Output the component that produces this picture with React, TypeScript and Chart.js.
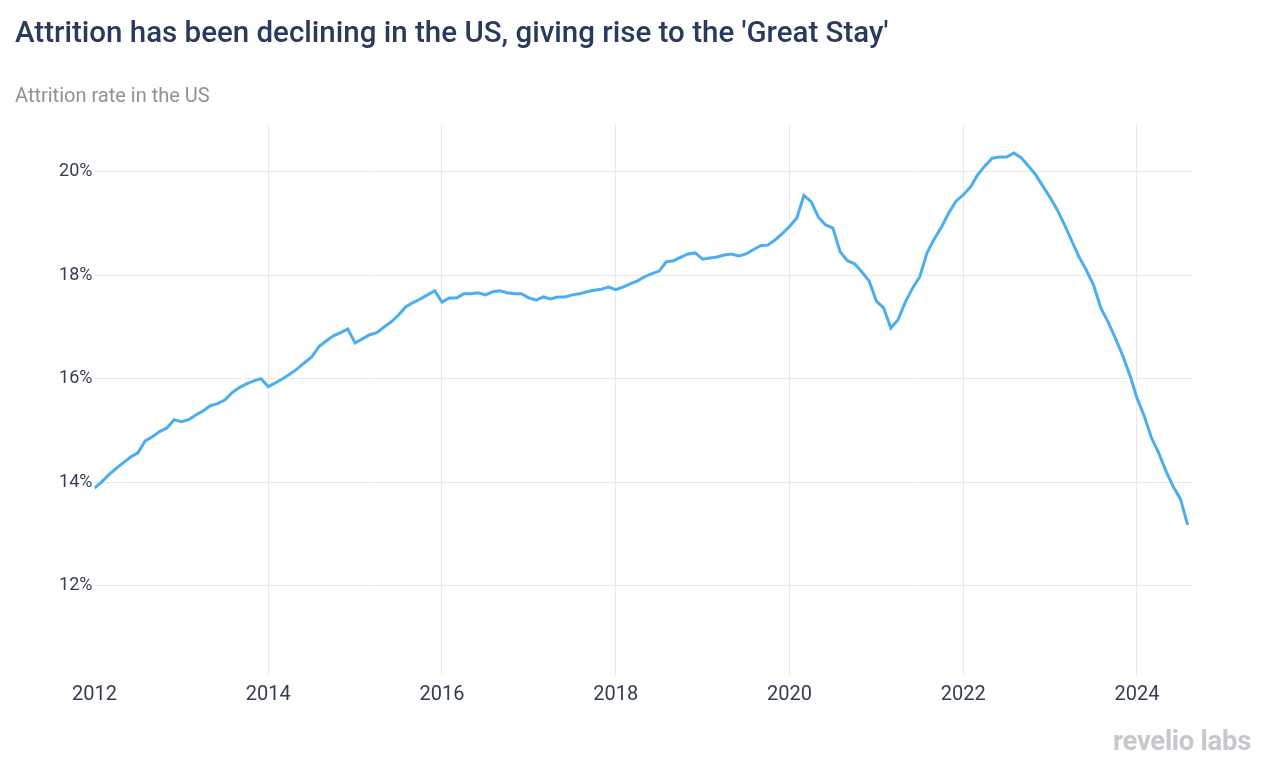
import { useEffect, useRef } from "react";
import { Chart, registerables } from "chart.js";

Chart.register(...registerables);

const years = [2012, 2013, 2014, 2015, 2016, 2017, 2018, 2019, 2020, 2021, 2022, 2023, 2024];

const rate2012 = [13.89, 14.01, 14.15, 14.27, 14.38, 14.49, 14.57, 14.8, 14.88, 14.98, 15.05, 15.21];
const rate2013 = [15.17, 15.21, 15.3, 15.38, 15.48, 15.52, 15.59, 15.73, 15.83, 15.9, 15.96, 16.0];
const rate2014 = [15.85, 15.92, 16.0, 16.09, 16.19, 16.31, 16.42, 16.62, 16.73, 16.83, 16.89, 16.96];
const rate2015 = [16.69, 16.77, 16.85, 16.89, 17.0, 17.1, 17.23, 17.39, 17.47, 17.54, 17.62, 17.7];
const rate2016 = [17.48, 17.56, 17.56, 17.64, 17.64, 17.66, 17.62, 17.68, 17.7, 17.66, 17.64, 17.64];
const rate2017 = [17.56, 17.52, 17.58, 17.54, 17.58, 17.58, 17.62, 17.64, 17.68, 17.71, 17.73, 17.77];
const rate2018 = [17.72, 17.77, 17.83, 17.89, 17.97, 18.03, 18.08, 18.26, 18.28, 18.35, 18.41, 18.43];
const rate2019 = [18.31, 18.33, 18.35, 18.39, 18.41, 18.37, 18.41, 18.49, 18.57, 18.58, 18.68, 18.8];
const rate2020 = [18.94, 19.1, 19.54, 19.42, 19.12, 18.97, 18.91, 18.45, 18.28, 18.22, 18.06, 17.89];
const rate2021 = [17.5, 17.37, 16.98, 17.14, 17.48, 17.75, 17.97, 18.43, 18.7, 18.93, 19.2, 19.43];
const rate2022 = [19.55, 19.7, 19.94, 20.11, 20.26, 20.28, 20.28, 20.36, 20.27, 20.11, 19.94, 19.72];
const rate2023 = [19.5, 19.26, 18.97, 18.66, 18.35, 18.1, 17.81, 17.37, 17.1, 16.79, 16.46, 16.08];
const rate2024 = [15.63, 15.28, 14.86, 14.57, 14.22, 13.92, 13.68, 13.18];

const ratesByYear = [
  rate2012, rate2013, rate2014, rate2015, rate2016, rate2017, rate2018,
  rate2019, rate2020, rate2021, rate2022, rate2023, rate2024,
];

const xTickValues = [2012, 2014, 2016, 2018, 2020, 2022, 2024];
const yTickValues = [12, 14, 16, 18, 20];

const TITLE = "Attrition has been declining in the US, giving rise to the 'Great Stay'";
const SUBTITLE = "Attrition rate in the US";
const LOGO = "revelio labs";

export default function App() {
  const ref = useRef<HTMLCanvasElement | null>(null);

  useEffect(() => {
    if (!ref.current) return;
    const points: { x: number; y: number }[] = [];
    years.forEach((yr, i) => {
      ratesByYear[i].forEach((v, m) => points.push({ x: yr + m / 12, y: v }));
    });
    const gridColor = "#e8e8ed";
    const tickColor = "#353d52";
    const chart = new Chart(ref.current, {
      type: "line",
      data: {
        datasets: [
          {
            data: points,
            borderColor: "#4aaef0",
            borderWidth: 3,
            pointRadius: 0,
            tension: 0,
            fill: false,
          },
        ],
      },
      options: {
        animation: false,
        responsive: true,
        maintainAspectRatio: false,
        layout: { padding: { top: 125, right: 77, bottom: 0, left: 0 } },
        plugins: { legend: { display: false }, tooltip: { enabled: false } },
        scales: {
          x: {
            type: "linear",
            min: 2012,
            max: 2024.645,
            afterBuildTicks: (s: any) => {
              s.ticks = xTickValues.map((v) => ({ value: v }));
            },
            afterFit: (s: any) => {
              s.height = 96;
            },
            grid: {
              color: (ctx: any) =>
                ctx.tick && ctx.tick.value === 2012 ? "rgba(0,0,0,0)" : gridColor,
              drawTicks: false,
              lineWidth: 1,
            },
            border: { display: false },
            ticks: {
              padding: 8,
              maxRotation: 0,
              autoSkip: false,
              color: tickColor,
              font: { family: "Roboto", size: 20 },
              callback: (v: any) => String(v),
            },
          },
          y: {
            min: 10.28,
            max: 20.9,
            afterBuildTicks: (s: any) => {
              s.ticks = yTickValues.map((v) => ({ value: v }));
            },
            afterFit: (s: any) => {
              s.width = 94.5;
            },
            grid: { color: gridColor, drawTicks: false, lineWidth: 1 },
            border: { display: false },
            ticks: {
              padding: 2,
              color: tickColor,
              font: { family: "Roboto", size: 18 },
              callback: (v: any) => v + "%",
            },
          },
        },
      },
    });
    return () => chart.destroy();
  }, []);

  return (
    <div
      style={{
        position: "absolute",
        left: 0,
        top: 0,
        width: 1270,
        height: 771,
        background: "#ffffff",
        overflow: "hidden",
      }}
    >
      <canvas ref={ref} />
      <div
        style={{
          position: "absolute",
          left: 15,
          top: 15,
          fontFamily: "Roboto",
          fontWeight: 500,
          fontSize: 29.5,
          color: "#2a3a5c",
          whiteSpace: "nowrap",
          lineHeight: "34px",
        }}
      >
        {TITLE}
      </div>
      <div
        style={{
          position: "absolute",
          left: 15,
          top: 83,
          fontFamily: "Roboto",
          fontSize: 20,
          color: "#8c9399",
          whiteSpace: "nowrap",
          lineHeight: "24px",
        }}
      >
        {SUBTITLE}
      </div>
      <div
        style={{
          position: "absolute",
          left: 1113,
          top: 725,
          fontFamily: "Roboto",
          fontWeight: 700,
          fontSize: 27.5,
          color: "#c6c8cc",
          whiteSpace: "nowrap",
          lineHeight: "32px",
          letterSpacing: -0.3,
        }}
      >
        {LOGO}
      </div>
    </div>
  );
}
